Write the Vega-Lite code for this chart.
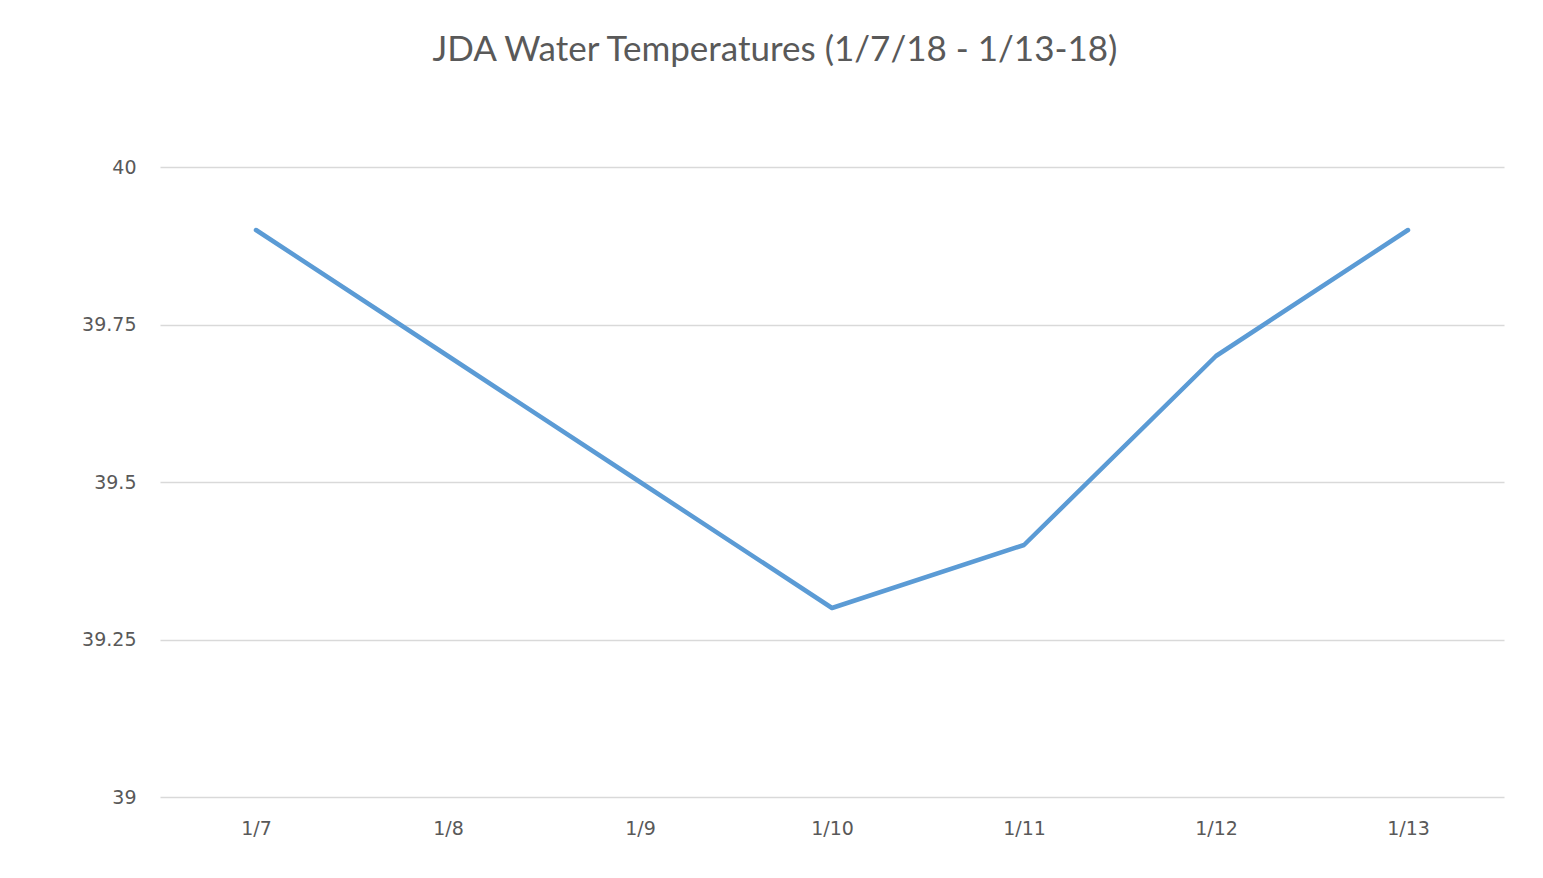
{
  "$schema": "https://vega.github.io/schema/vega-lite/v6.json",
  "autosize": {"type": "none"},
  "width": 1344,
  "height": 630,
  "padding": {"left": 160, "top": 167, "right": 39, "bottom": 81},
  "background": "white",
  "title": {
    "text": "JDA Water Temperatures  (1/7/18 - 1/13-18)",
    "font": "Lato",
    "fontSize": 35,
    "fontWeight": "normal",
    "color": "#595959",
    "anchor": "middle",
    "dx": -57,
    "offset": 62,
    "baseline": "alphabetic"
  },
  "config": {
    "view": {"stroke": null},
    "axis": {
      "labelFont": "DejaVu Sans",
      "labelFontSize": 19,
      "labelColor": "#595959",
      "domain": false,
      "ticks": false
    }
  },
  "data": {
    "values": [
      {"date": "1/7", "temp": 39.9},
      {"date": "1/8", "temp": 39.7},
      {"date": "1/9", "temp": 39.5},
      {"date": "1/10", "temp": 39.3},
      {"date": "1/11", "temp": 39.4},
      {"date": "1/12", "temp": 39.7},
      {"date": "1/13", "temp": 39.9}
    ]
  },
  "mark": {"type": "line", "color": "#5b9bd5", "strokeWidth": 4.5, "strokeCap": "round", "strokeJoin": "round"},
  "encoding": {
    "x": {
      "field": "date",
      "type": "ordinal",
      "sort": null,
      "scale": {"type": "point", "padding": 0.5},
      "axis": {"title": null, "labelAngle": 0, "labelPadding": 22, "grid": false}
    },
    "y": {
      "field": "temp",
      "type": "quantitative",
      "scale": {"domain": [39, 40], "zero": false, "nice": false},
      "axis": {
        "title": null,
        "values": [39, 39.25, 39.5, 39.75, 40],
        "labelExpr": "'' + datum.value",
        "grid": true,
        "gridColor": "#d9d9d9",
        "gridWidth": 1.3,
        "labelPadding": 24
      }
    }
  }
}
